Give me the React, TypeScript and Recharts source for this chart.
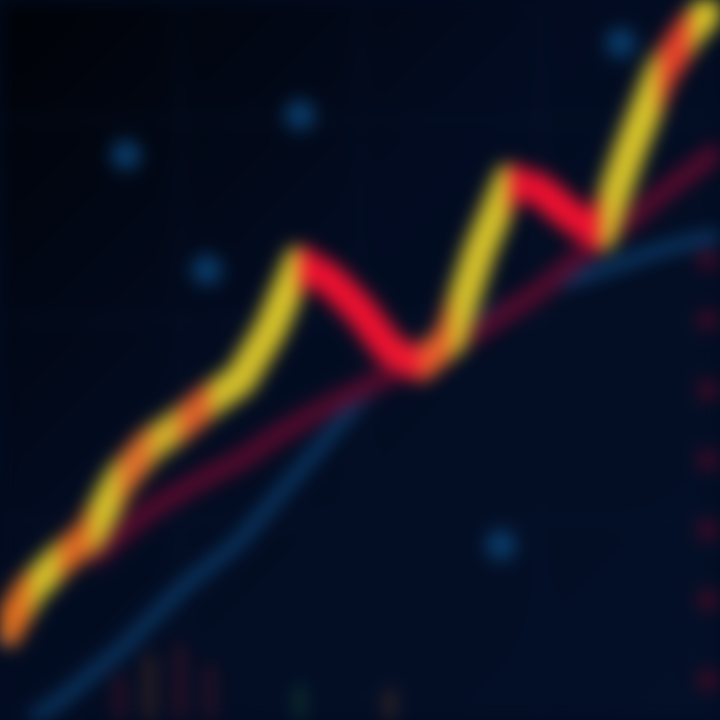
import React from 'react';
import {
  ComposedChart,
  Line,
  Bar,
  Cell,
  Scatter,
  XAxis,
  YAxis,
  CartesianGrid,
} from 'recharts';

// Session index (0..24) and price-like values
const DAYS = Array.from({ length: 25 }, (_, i) => i);
const PRICE = [80, 130, 160, 185, 240, 275, 295, 320, 340, 390, 458, 440, 410, 370, 355, 380, 470, 540, 530, 505, 485, 570, 645, 690, 720];
const MA_SLOW = [null, null, null, 160, 185, 210, 228, 245, 260, 280, 298, 315, 330, 345, 360, 375, 390, 410, 430, 455, 480, 500, 525, 548, 570];
const MA_FAST = [null, 0, 20, 45, 70, 100, 130, 155, 180, 215, 250, 285, 320, 345, 370, 385, 400, 415, 430, 440, 450, 460, 470, 478, 485];
const VOLUME = [0, 0, 0, 0, 45, 65, 75, 55, 0, 0, 35, 0, 0, 30, 0, 0, 0, 0, 0, 0, 0, 0, 0, 0, 0];
const VOLUME_COLORS = ['#b01a2a', '#b01a2a', '#b01a2a', '#b01a2a', '#c01a30', '#d0602a', '#c02030', '#b02030', '#b01a2a', '#b01a2a', '#2a9a4a', '#b01a2a', '#b01a2a', '#d0702a', '#b01a2a', '#b01a2a', '#b01a2a', '#b01a2a', '#b01a2a', '#b01a2a', '#b01a2a', '#b01a2a', '#b01a2a', '#b01a2a', '#b01a2a'];

// segment colours of the price line (up = yellow, down = red, mixed = orange)
const SEGMENT_COLORS = ['#e07020', '#d4c02a', '#e06a22', '#d4c02a', '#e0702a', '#d4b02a', '#e0602a', '#d4c02a', '#d4c02a', '#d8c42a', '#ee1030', '#ee1030', '#ee1030', '#f01830', '#e8602a', '#d4c02a', '#d4c02a', '#e81030', '#ee1030', '#ee1030', '#d4c02a', '#d8c42a', '#e8402a', '#d8c42a'];

// out-of-focus blue glints
const GLINTS = [
  { day: 4.2, value: 565 },
  { day: 10, value: 605 },
  { day: 6.9, value: 450 },
  { day: 16.7, value: 175 },
  { day: 20.7, value: 677 },
];

const RIGHT_MARKS = [
  { day: 23.6, value: 460 },
  { day: 23.6, value: 400 },
  { day: 23.6, value: 330 },
  { day: 23.6, value: 260 },
  { day: 23.6, value: 190 },
  { day: 23.6, value: 120 },
  { day: 23.6, value: 40 },
];

const data = DAYS.map((day, i) => ({
  day,
  price: PRICE[i],
  slow: MA_SLOW[i],
  fast: MA_FAST[i],
  volume: VOLUME[i],
}));

const glow = (fill: string, r: number) => (p: any) => (
  <circle cx={p.cx} cy={p.cy} r={r} fill={fill} />
);

export default function App() {
  const n = SEGMENT_COLORS.length;
  return (
    <div
      style={{
        position: 'fixed',
        left: 0,
        top: 0,
        width: 720,
        height: 720,
        overflow: 'hidden',
        background: '#020b20',
      }}
    >
      <div style={{ filter: 'blur(9px)', width: 720, height: 720 }}>
        <ComposedChart width={720} height={720} data={data} margin={{ top: 0, right: 0, bottom: 0, left: 0 }}>
          <defs>
            <linearGradient id="priceStroke" x1="0" y1="0" x2="1" y2="0">
              {SEGMENT_COLORS.map((c, i) => (
                <React.Fragment key={i}>
                  <stop offset={`${(i / n) * 100}%`} stopColor={c} />
                  <stop offset={`${((i + 1) / n) * 100}%`} stopColor={c} />
                </React.Fragment>
              ))}
            </linearGradient>
            <linearGradient id="bg" x1="0" y1="0" x2="1" y2="1">
              <stop offset="0%" stopColor="#000206" />
              <stop offset="40%" stopColor="#020b20" />
              <stop offset="100%" stopColor="#031028" />
            </linearGradient>
          </defs>
          <CartesianGrid stroke="#081630" strokeWidth={2} fill="url(#bg)" />
          <XAxis dataKey="day" type="number" domain={[0, 24]} hide />
          <YAxis type="number" domain={[0, 720]} hide />
          <Bar dataKey="volume" barSize={22} isAnimationActive={false}>
            {data.map((_, i) => (
              <Cell key={i} fill={VOLUME_COLORS[i]} />
            ))}
          </Bar>
          <Line dataKey="fast" stroke="#0b3a68" strokeWidth={13} dot={false} type="monotone" isAnimationActive={false} />
          <Line dataKey="slow" stroke="#560a2c" strokeWidth={20} dot={false} type="monotone" isAnimationActive={false} />
          <Line dataKey="price" stroke="url(#priceStroke)" strokeWidth={32} dot={false} type="linear" strokeLinejoin="round" isAnimationActive={false} />
          <Scatter data={GLINTS} dataKey="value" shape={glow('#0a3c6a', 15)} isAnimationActive={false} />
          <Scatter data={RIGHT_MARKS} dataKey="value" shape={glow('#4a0a26', 10)} isAnimationActive={false} />
        </ComposedChart>
      </div>
    </div>
  );
}
